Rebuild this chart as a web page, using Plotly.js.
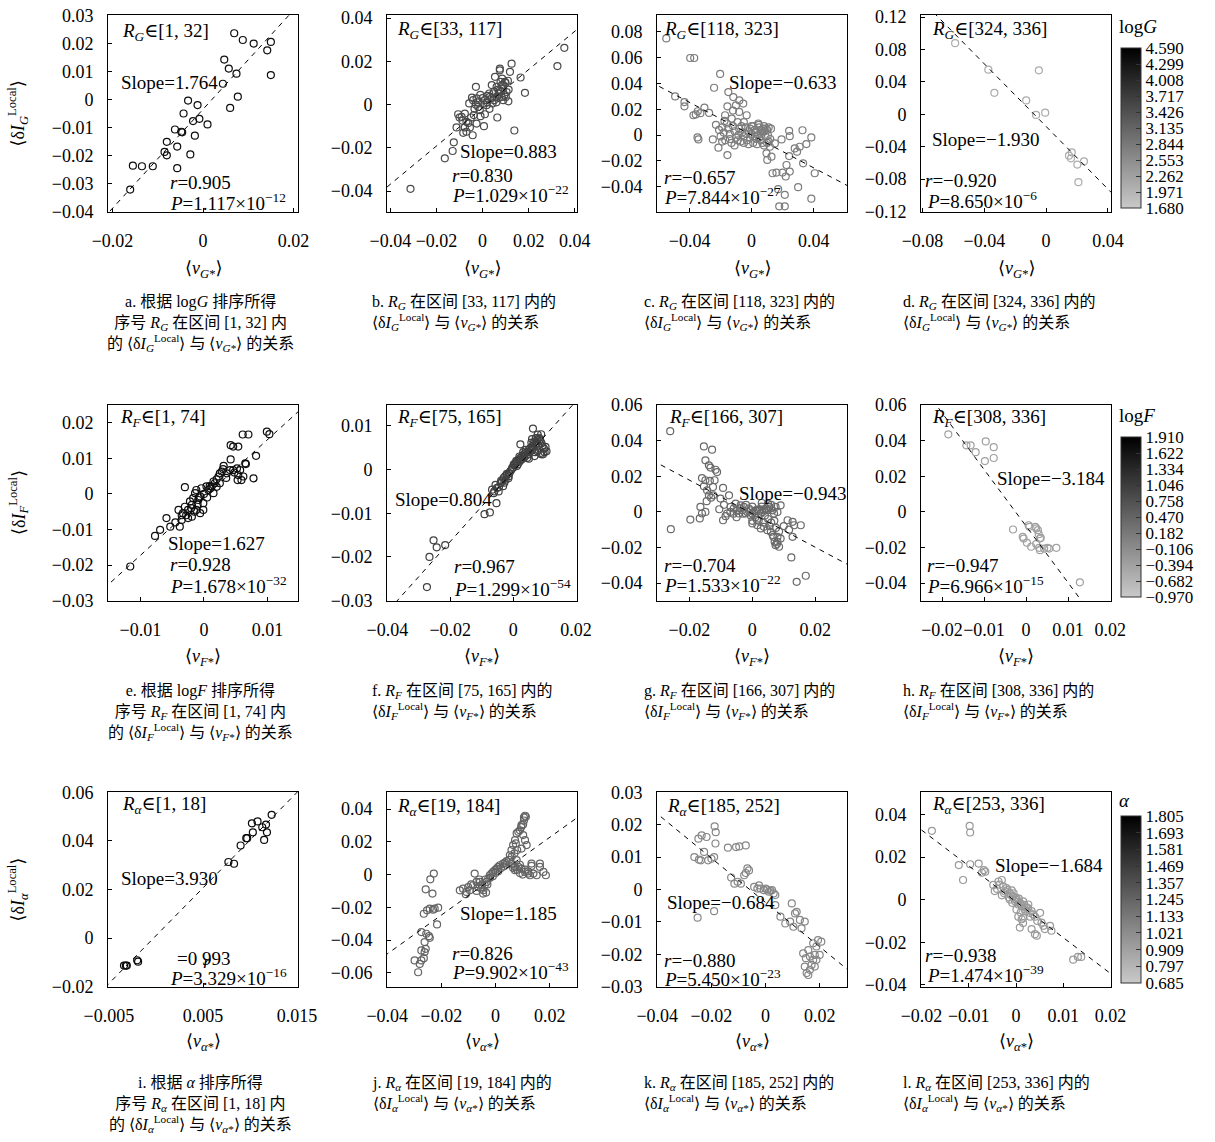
<!DOCTYPE html>
<html><head><meta charset="utf-8">
<script src="https://cdn.plot.ly/plotly-3.0.1.min.js"></script>
<style>body{margin:0;background:#fff}#chart{width:1215px;height:1142px}</style>
</head><body><div id="chart"></div>
<script>
// ---------------- DATA ----------------
const xA=[0.0069,0.0088,0.0112,0.0142,0.0150,0.0150,0.0047,0.0057,0.0074,0.0044,0.0077,0.0060,-0.0033,-0.0012,-0.0043,-0.0008,-0.0022,0.0010,-0.0062,-0.0046,-0.0018,-0.0080,-0.0057,-0.0085,-0.0080,-0.0028,-0.0155,-0.0135,-0.0111,-0.0057,-0.0161,-0.0048];
const yA=[0.0236,0.0212,0.0199,0.0175,0.0205,0.0087,0.0142,0.0110,0.0092,0.0056,0.0010,-0.0030,-0.0004,-0.0020,-0.0050,-0.0069,-0.0077,-0.0089,-0.0107,-0.0117,-0.0129,-0.0151,-0.0168,-0.0187,-0.0199,-0.0196,-0.0236,-0.0238,-0.0238,-0.0245,-0.0321,-0.0115];
const xB=[-0.0313,-0.0164,-0.0130,-0.0125,-0.0113,-0.0106,-0.0091,-0.0087,-0.0084,-0.0077,-0.0070,-0.0055,-0.0043,-0.0077,-0.0062,-0.0041,-0.0026,-0.0019,-0.0012,0.0003,0.0010,0.0017,0.0032,0.0046,0.0061,0.0068,0.0075,0.0083,0.0090,0.0078,0.0075,0.0075,0.0054,0.0097,0.0104,0.0119,0.0126,0.0090,0.0064,0.0112,-0.0029,0.0006,0.0029,-0.0046,-0.0058,-0.0038,-0.0026,-0.0009,0.0043,0.0061,0.0083,0.0101,0.0113,0.0325,0.0355,0.0138,0.0184,0.0165,-0.0030,-0.0020,0.0000,0.0020,0.0040,0.0050,0.0070,0.0080,0.0090,0.0100,0.0060,0.0040,0.0020,-0.0010,-0.0050,-0.0070,-0.0100,0.0085,0.0030,0.0110,0.0010,-0.0035,0.0070,0.0095,0.0050];
const yB=[-0.0390,-0.0249,-0.0215,-0.0175,-0.0106,-0.0045,-0.0057,-0.0075,-0.0131,-0.0106,-0.0126,-0.0106,-0.0142,-0.0042,-0.0085,0.0020,0.0028,-0.0011,-0.0026,0.0005,0.0020,-0.0003,0.0035,0.0051,0.0082,0.0069,0.0066,0.0089,0.0074,0.0105,0.0158,0.0166,0.0128,0.0105,0.0058,0.0151,0.0189,0.0020,-0.0060,0.0015,0.0082,-0.0100,0.0051,0.0032,0.0005,-0.0049,-0.0088,-0.0054,0.0005,0.0035,0.0035,0.0035,0.0069,0.0178,0.0262,-0.0120,0.0054,0.0125,0.0000,0.0010,0.0030,0.0040,0.0030,0.0060,0.0050,0.0060,0.0090,0.0100,0.0010,0.0090,0.0010,0.0045,-0.0060,-0.0080,-0.0060,0.0120,-0.0020,0.0110,-0.0045,-0.0020,0.0030,0.0045,0.0020];
const xC=[-0.0550,-0.0396,-0.0370,-0.0203,-0.0242,-0.0493,-0.0433,-0.0433,-0.0375,-0.0347,-0.0304,-0.0274,-0.0360,-0.0330,-0.0349,-0.0343,-0.0250,-0.0214,-0.0156,-0.0150,-0.0118,-0.0079,-0.0054,-0.0156,-0.0101,-0.0171,-0.0128,-0.0032,0.0043,0.0075,0.0193,0.0242,0.0246,0.0328,0.0353,0.0385,0.0310,0.0293,0.0278,0.0242,0.0332,0.0225,0.0246,0.0199,0.0160,0.0135,0.0220,0.0300,0.0385,0.0178,0.0214,0.0171,0.0214,0.0407,0.0128,0.0101,0.0096,0.0118,0.0150,-0.0230,-0.0210,-0.0200,-0.0190,-0.0180,-0.0170,-0.0160,-0.0150,-0.0140,-0.0130,-0.0120,-0.0110,-0.0100,-0.0090,-0.0080,-0.0070,-0.0060,-0.0050,-0.0040,-0.0030,-0.0020,-0.0010,0.0000,0.0010,0.0020,0.0030,0.0040,0.0050,0.0060,0.0070,0.0080,0.0090,0.0100,0.0110,0.0120,0.0100,0.0080,0.0060,-0.0020,-0.0050,-0.0090,-0.0110,-0.0140,-0.0190,0.0020,0.0030,0.0050,0.0070,0.0090,0.0110,-0.0010,0.0010,-0.0035,-0.0065,-0.0085,0.0045,0.0085,0.0105,0.0125,0.0035,-0.0120,-0.0080,-0.0050,-0.0175,0.0000];
const yC=[0.0749,0.0597,0.0597,0.0474,0.0367,0.0300,0.0256,0.0223,0.0154,0.0185,0.0213,0.0172,0.0160,0.0170,-0.0018,-0.0033,-0.0033,-0.0097,-0.0154,0.0333,0.0295,0.0269,0.0244,0.0223,0.0231,0.0154,0.0128,0.0154,0.0090,0.0051,-0.0033,0.0033,-0.0008,0.0038,-0.0069,-0.0018,-0.0090,-0.0128,-0.0103,-0.0162,-0.0218,-0.0231,-0.0282,-0.0290,-0.0290,-0.0295,-0.0320,-0.0403,-0.0492,-0.0551,-0.0551,-0.0418,-0.0462,-0.0295,-0.0167,-0.0192,-0.0141,-0.0090,-0.0064,0.0080,0.0040,-0.0010,0.0060,0.0020,-0.0040,0.0090,0.0050,0.0010,-0.0060,0.0070,0.0030,-0.0020,0.0100,0.0050,-0.0050,0.0020,-0.0010,0.0060,-0.0040,0.0030,-0.0020,0.0010,-0.0060,0.0040,-0.0030,0.0000,0.0060,-0.0040,0.0020,0.0070,-0.0010,0.0040,0.0060,-0.0030,-0.0060,-0.0080,0.0040,-0.0070,-0.0060,-0.0040,-0.0080,-0.0030,-0.0050,-0.0010,0.0020,-0.0020,-0.0060,0.0050,-0.0050,0.0050,0.0070,0.0010,0.0070,0.0000,0.0080,0.0030,0.0000,0.0050,-0.0070,0.0190,0.0180,0.0100,0.0110,0.0070];
const xD=[-0.0589,-0.0374,-0.0335,-0.0047,-0.0129,-0.0065,-0.0006,0.0148,0.0166,0.0161,0.0202,0.0245,0.0209];
const yD=[0.0878,0.0551,0.0265,0.0543,0.0171,-0.0008,0.0020,-0.0510,-0.0469,-0.0543,-0.0620,-0.0580,-0.0837];
const xE=[-0.0116,-0.0077,-0.0069,-0.0059,-0.0053,-0.0038,-0.0035,-0.0033,-0.0030,-0.0030,-0.0025,-0.0022,-0.0019,-0.0017,-0.0014,-0.0012,-0.0009,-0.0006,-0.0004,-0.0001,-0.0001,0.0004,-0.0006,-0.0012,-0.0019,-0.0025,0.0007,0.0009,0.0015,0.0017,0.0020,0.0023,0.0025,0.0028,0.0031,0.0015,0.0012,0.0042,0.0046,0.0054,0.0042,0.0041,0.0052,0.0054,0.0057,0.0059,0.0062,0.0065,0.0066,0.0061,0.0070,0.0082,0.0078,0.0099,0.0103,0.0053,0.0046,0.0036,-0.0040,-0.0045,-0.0028,-0.0010,0.0000,0.0005,0.0020,0.0025,-0.0015,0.0035,0.0010,-0.0020,-0.0035,0.0030,0.0048,-0.0008];
const yE=[-0.0204,-0.0118,-0.0101,-0.0068,-0.0092,-0.0092,-0.0073,-0.0054,-0.0036,0.0019,-0.0045,-0.0021,-0.0031,-0.0012,0.0002,0.0011,-0.0017,-0.0007,0.0016,-0.0026,-0.0045,0.0021,-0.0054,-0.0045,-0.0064,-0.0068,0.0011,0.0022,0.0035,0.0030,0.0041,0.0049,0.0058,0.0063,0.0079,0.0002,0.0021,0.0137,0.0133,0.0133,0.0097,0.0067,0.0072,0.0053,0.0067,0.0039,0.0049,0.0086,0.0084,0.0167,0.0167,0.0107,0.0044,0.0175,0.0168,0.0039,0.0067,0.0058,-0.0045,-0.0080,-0.0060,-0.0030,0.0000,-0.0010,0.0020,0.0030,-0.0050,0.0045,0.0015,-0.0040,-0.0060,0.0070,0.0060,-0.0010];
const xF=[-0.0274,-0.0266,-0.0253,-0.0243,-0.0216,-0.0091,-0.0074,-0.0053,-0.0067,-0.0062,-0.0056,-0.0051,-0.0046,-0.0040,-0.0035,-0.0030,-0.0024,-0.0019,-0.0014,-0.0009,-0.0003,0.0002,0.0007,0.0013,0.0018,0.0023,0.0029,0.0034,0.0039,0.0045,0.0050,0.0055,0.0061,0.0066,0.0071,0.0077,0.0082,0.0087,0.0093,0.0098,0.0103,0.0087,0.0077,0.0068,0.0063,0.0089,0.0106,0.0089,0.0023,-0.0045,-0.0038,-0.0028,-0.0020,-0.0012,-0.0005,0.0000,0.0005,0.0010,0.0015,0.0020,0.0025,0.0030,0.0035,0.0040,0.0045,0.0050,0.0055,0.0060,0.0065,0.0070,0.0075,0.0080,0.0085,0.0060,0.0040,0.0020,-0.0015,-0.0032,-0.0060,0.0070,0.0090,0.0078,0.0050,0.0012,-0.0025,0.0032,0.0058,0.0072,0.0095,0.0100];
const yF=[-0.0269,-0.0200,-0.0162,-0.0178,-0.0173,-0.0102,-0.0098,-0.0077,-0.0046,-0.0054,-0.0035,-0.0042,-0.0050,-0.0031,-0.0027,-0.0019,-0.0023,-0.0012,-0.0015,-0.0004,0.0004,0.0012,0.0015,0.0019,0.0023,0.0027,0.0031,0.0035,0.0038,0.0027,0.0046,0.0050,0.0054,0.0062,0.0065,0.0069,0.0073,0.0065,0.0054,0.0048,0.0052,0.0038,0.0042,0.0031,0.0094,0.0081,0.0042,0.0035,0.0058,-0.0040,-0.0025,-0.0030,-0.0010,-0.0008,0.0000,0.0005,0.0010,0.0020,0.0012,0.0018,0.0022,0.0025,0.0028,0.0032,0.0040,0.0035,0.0042,0.0045,0.0050,0.0058,0.0060,0.0055,0.0070,0.0070,0.0045,0.0030,-0.0020,-0.0038,-0.0050,0.0040,0.0060,0.0080,0.0025,0.0008,-0.0015,0.0040,0.0062,0.0072,0.0035,0.0040];
const xG=[-0.0261,-0.0259,-0.0197,-0.0165,-0.0160,-0.0167,-0.0149,-0.0154,-0.0128,-0.0149,-0.0138,-0.0133,-0.0117,-0.0112,-0.0149,-0.0135,-0.0120,-0.0154,-0.0144,-0.0138,-0.0131,-0.0124,-0.0093,-0.0101,-0.0074,-0.0093,-0.0085,-0.0080,-0.0069,-0.0059,-0.0053,-0.0048,-0.0043,-0.0037,-0.0032,-0.0027,-0.0021,-0.0016,-0.0011,-0.0005,0.0000,0.0005,0.0011,0.0016,0.0021,0.0027,0.0032,0.0037,0.0043,0.0048,0.0053,0.0059,0.0064,0.0069,0.0074,0.0000,0.0016,0.0027,0.0037,0.0048,0.0059,0.0067,0.0071,0.0074,0.0080,0.0085,0.0080,0.0090,0.0112,0.0128,0.0133,0.0154,0.0124,0.0141,0.0170,0.0128,0.0117,0.0100,-0.0060,-0.0050,-0.0040,-0.0020,0.0000,0.0010,0.0020,0.0030,0.0040,0.0050,0.0060,0.0070,0.0080,0.0060,0.0045,0.0025,-0.0005,-0.0030,0.0035,0.0055,0.0075,0.0085,0.0065,0.0090,0.0078,-0.0105,-0.0090,-0.0070,-0.0160,-0.0125,-0.0145,0.0030,0.0050,0.0015,0.0000];
const yG=[0.0454,-0.0097,-0.0043,0.0028,-0.0009,-0.0037,0.0000,0.0368,0.0350,0.0290,0.0262,0.0249,0.0237,0.0224,0.0178,0.0174,0.0178,0.0144,0.0121,0.0093,0.0080,0.0093,0.0135,0.0075,0.0093,-0.0047,-0.0024,-0.0009,0.0028,0.0019,0.0047,0.0009,-0.0009,0.0037,0.0009,0.0028,-0.0009,0.0000,0.0019,0.0009,-0.0009,0.0000,0.0009,0.0013,0.0006,-0.0009,0.0000,0.0009,0.0019,0.0009,0.0028,0.0019,0.0009,-0.0009,0.0028,-0.0065,-0.0075,-0.0093,-0.0084,-0.0103,-0.0112,-0.0140,-0.0168,-0.0187,-0.0168,-0.0196,-0.0140,0.0037,-0.0047,-0.0056,-0.0075,-0.0075,-0.0256,-0.0393,-0.0359,-0.0140,-0.0100,-0.0080,-0.0010,-0.0030,0.0020,0.0040,0.0030,-0.0030,-0.0050,0.0030,-0.0020,-0.0040,-0.0060,-0.0050,0.0000,0.0040,0.0010,0.0015,-0.0020,-0.0010,-0.0060,-0.0080,-0.0090,-0.0110,-0.0130,-0.0150,-0.0180,0.0015,0.0040,0.0000,0.0190,0.0140,0.0060,0.0050,0.0045,-0.0045,-0.0050];
const xH=[-0.0185,-0.0142,-0.0132,-0.0120,-0.0098,-0.0096,-0.0077,-0.0077,-0.0031,-0.0008,-0.0006,0.0002,0.0006,0.0008,0.0012,0.0022,0.0024,0.0028,0.0030,0.0033,0.0035,0.0024,0.0031,0.0033,0.0043,0.0051,0.0055,0.0072,0.0128];
const yH=[0.0436,0.0374,0.0374,0.0336,0.0286,0.0396,0.0364,0.0303,-0.0099,-0.0140,-0.0150,-0.0174,-0.0075,-0.0084,-0.0196,-0.0084,-0.0093,-0.0103,-0.0125,-0.0150,-0.0146,-0.0181,-0.0202,-0.0215,-0.0206,-0.0202,-0.0206,-0.0202,-0.0396];
const xI=[-0.0034,-0.0032,-0.0031,-0.0020,-0.0019,0.0077,0.0083,0.0090,0.0096,0.0097,0.0103,0.0102,0.0108,0.0113,0.0117,0.0115,0.0118,0.0123];
const yI=[-0.0113,-0.0113,-0.0113,-0.0091,-0.0097,0.0313,0.0306,0.0381,0.0411,0.0411,0.0435,0.0472,0.0480,0.0456,0.0467,0.0404,0.0435,0.0507];
const xJ=[-0.0286,-0.0299,-0.0280,-0.0274,-0.0262,-0.0274,-0.0258,-0.0265,-0.0274,-0.0256,-0.0246,-0.0262,-0.0265,-0.0253,-0.0243,-0.0225,-0.0212,-0.0231,-0.0258,-0.0233,-0.0241,-0.0228,-0.0216,-0.0243,-0.0132,-0.0120,-0.0107,-0.0101,-0.0095,-0.0083,-0.0077,-0.0070,-0.0064,-0.0058,-0.0052,-0.0046,-0.0040,-0.0033,-0.0027,-0.0021,-0.0015,-0.0009,-0.0002,0.0004,0.0010,0.0016,0.0028,0.0035,0.0041,0.0053,0.0059,0.0065,0.0072,0.0078,0.0096,0.0102,0.0109,0.0115,0.0084,0.0096,0.0102,0.0105,0.0109,0.0112,0.0059,0.0072,0.0084,0.0096,0.0109,0.0121,0.0127,0.0140,0.0152,0.0133,0.0133,0.0164,0.0177,0.0186,0.0164,0.0078,0.0072,-0.0060,-0.0050,-0.0045,-0.0038,-0.0030,-0.0020,-0.0010,0.0000,0.0010,0.0020,0.0030,0.0040,0.0050,0.0060,0.0070,0.0080,0.0070,0.0080,0.0090,0.0100,0.0110,0.0120,0.0090,0.0065,-0.0110,-0.0090,0.0090,0.0095,0.0105,0.0075,-0.0035,-0.0070];
const yJ=[-0.0596,-0.0524,-0.0545,-0.0524,-0.0473,-0.0463,-0.0453,-0.0510,-0.0351,-0.0361,-0.0376,-0.0412,-0.0239,-0.0218,-0.0208,-0.0208,-0.0202,-0.0214,-0.0090,-0.0116,-0.0029,0.0006,-0.0304,-0.0386,-0.0096,-0.0086,-0.0106,-0.0076,-0.0096,-0.0065,0.0006,-0.0045,-0.0076,-0.0045,-0.0086,-0.0116,-0.0065,-0.0045,-0.0024,-0.0004,0.0006,0.0016,0.0027,0.0037,0.0047,0.0057,0.0067,0.0073,0.0082,0.0118,0.0149,0.0180,0.0210,0.0251,0.0159,0.0241,0.0210,0.0180,0.0261,0.0302,0.0306,0.0349,0.0359,0.0353,0.0067,0.0027,0.0047,0.0037,0.0016,0.0006,-0.0004,0.0006,-0.0004,0.0053,0.0067,0.0067,0.0016,-0.0004,0.0047,0.0088,0.0047,-0.0030,-0.0060,-0.0095,-0.0030,-0.0060,-0.0020,-0.0010,0.0010,0.0020,0.0040,0.0050,0.0060,0.0090,0.0110,0.0130,0.0150,0.0050,0.0030,0.0010,0.0000,0.0030,0.0020,0.0060,0.0040,-0.0120,-0.0060,0.0270,0.0290,0.0330,0.0190,-0.0110,-0.0100];
const xK=[-0.0263,-0.0246,-0.0239,-0.0248,-0.0236,-0.0218,-0.0227,-0.0212,-0.0200,-0.0190,-0.0188,-0.0184,-0.0185,-0.0251,-0.0190,-0.0139,-0.0109,-0.0097,-0.0073,-0.0127,-0.0115,-0.0103,-0.0091,-0.0079,-0.0073,-0.0067,-0.0061,-0.0042,-0.0030,-0.0024,-0.0018,-0.0006,0.0000,0.0006,0.0012,0.0018,0.0024,0.0030,0.0036,0.0036,0.0055,0.0073,0.0091,0.0103,0.0097,0.0109,0.0115,0.0127,0.0133,0.0145,0.0139,0.0145,0.0152,0.0158,0.0164,0.0170,0.0176,0.0182,0.0188,0.0194,0.0176,0.0158,0.0149,0.0164,0.0182,0.0188,0.0200,0.0206];
const yK=[0.0100,0.0092,0.0090,0.0157,0.0167,0.0162,0.0116,0.0090,0.0095,0.0100,0.0195,0.0177,0.0142,-0.0087,-0.0067,0.0129,0.0131,0.0133,0.0136,0.0037,0.0018,0.0024,0.0018,0.0044,0.0051,0.0065,0.0059,0.0008,0.0003,0.0013,0.0003,-0.0002,0.0003,0.0000,-0.0007,-0.0004,-0.0002,-0.0012,-0.0017,-0.0048,-0.0084,-0.0105,-0.0099,-0.0115,-0.0043,-0.0074,-0.0069,-0.0094,-0.0120,-0.0099,-0.0197,-0.0238,-0.0258,-0.0264,-0.0248,-0.0233,-0.0217,-0.0202,-0.0176,-0.0156,-0.0166,-0.0187,-0.0212,-0.0207,-0.0238,-0.0217,-0.0202,-0.0161];
const xL=[-0.0178,-0.0098,-0.0097,-0.0121,-0.0112,-0.0097,-0.0079,-0.0072,-0.0065,-0.0068,-0.0048,-0.0037,-0.0030,-0.0027,-0.0020,-0.0023,-0.0013,-0.0009,-0.0006,-0.0002,0.0001,0.0005,0.0008,0.0012,0.0015,0.0019,0.0022,0.0026,0.0029,0.0033,0.0036,-0.0013,0.0001,0.0012,0.0015,0.0008,0.0033,0.0040,0.0044,0.0051,0.0054,0.0058,0.0061,0.0072,0.0075,0.0121,0.0131,0.0138,-0.0040,-0.0035,-0.0025,-0.0018,-0.0010,-0.0005,0.0000,0.0003,0.0006,0.0010,0.0018,0.0020,0.0025,0.0030,0.0010,-0.0015,-0.0008,0.0005,-0.0045,-0.0030,0.0040,0.0045,0.0015];
const yL=[0.0323,0.0346,0.0315,0.0162,0.0092,0.0166,0.0169,0.0126,0.0131,0.0138,0.0069,0.0085,0.0092,0.0062,0.0054,0.0038,0.0031,0.0043,0.0015,-0.0008,0.0008,-0.0023,-0.0015,-0.0031,-0.0008,-0.0046,-0.0038,-0.0023,-0.0062,-0.0054,-0.0069,0.0000,-0.0046,-0.0092,-0.0085,-0.0131,-0.0138,-0.0162,-0.0169,-0.0062,-0.0108,-0.0123,-0.0138,-0.0123,-0.0146,-0.0282,-0.0269,-0.0269,0.0050,0.0070,0.0030,0.0045,0.0020,0.0030,0.0000,-0.0010,0.0005,-0.0020,-0.0025,-0.0055,-0.0040,-0.0080,-0.0060,0.0010,-0.0015,-0.0080,0.0040,0.0020,-0.0080,-0.0100,-0.0110];

// colour value of each panel's points (logG / logF / alpha)
const colourVals=[4.40,3.50,2.80,2.10, 1.70,1.00,0.40,-0.40, 1.75,1.25,1.05,0.95];
// fit statistics
const slopes=[1.764,0.883,-0.633,-1.930, 1.627,0.804,-0.943,-3.184, 3.930,1.185,-0.684,-1.684];
const intercepts=[-0.0035,-0.0015,0.0000,-0.0150, -0.0010,-0.0004,-0.0010,-0.0080, 0.0010,-0.0010,-0.0040,-0.0010];
const rVals=[0.905,0.830,-0.657,-0.920, 0.928,0.967,-0.704,-0.947, 0.993,0.826,-0.880,-0.938];
const pMant=[1.117,1.029,7.844,8.650, 1.678,1.299,1.533,6.966, 3.329,9.902,5.450,1.474];
const pExp=[-12,-22,-27,-6, -32,-54,-22,-15, -16,-43,-23,-39];
const rankRanges=[[1,32],[33,117],[118,323],[324,336],[1,74],[75,165],[166,307],[308,336],[1,18],[19,184],[185,252],[253,336]];
const panelLetters=['a','b','c','d','e','f','g','h','i','j','k','l'];
const rowVars=['G','F','α'];
const rowScaleNames=['log<i>G</i>','log<i>F</i>','<i>α</i>'];
// colourbar ticks
const cbTicks=[
 ['4.590','4.299','4.008','3.717','3.426','3.135','2.844','2.553','2.262','1.971','1.680'],
 ['1.910','1.622','1.334','1.046','0.758','0.470','0.182','−0.106','−0.394','−0.682','−0.970'],
 ['1.805','1.693','1.581','1.469','1.357','1.245','1.133','1.021','0.909','0.797','0.685']];
const cbVals=[
 [4.590,4.299,4.008,3.717,3.426,3.135,2.844,2.553,2.262,1.971,1.680],
 [1.910,1.622,1.334,1.046,0.758,0.470,0.182,-0.106,-0.394,-0.682,-0.970],
 [1.805,1.693,1.581,1.469,1.357,1.245,1.133,1.021,0.909,0.797,0.685]];
// axis tick values
const xTicks=[[-0.02,0,0.02],[-0.04,-0.02,0,0.02,0.04],[-0.04,0,0.04],[-0.08,-0.04,0,0.04],
 [-0.01,0,0.01],[-0.04,-0.02,0,0.02],[-0.02,0,0.02],[-0.02,-0.01,0,0.01,0.02],
 [-0.005,0.005,0.015],[-0.04,-0.02,0,0.02],[-0.04,-0.02,0,0.02],[-0.02,-0.01,0,0.01,0.02]];
const yTicks=[[-0.04,-0.03,-0.02,-0.01,0,0.01,0.02,0.03],[-0.04,-0.02,0,0.02,0.04],[-0.06,-0.04,-0.02,0,0.02,0.04,0.06,0.08],[-0.12,-0.08,-0.04,0,0.04,0.08,0.12],
 [-0.03,-0.02,-0.01,0,0.01,0.02],[-0.03,-0.02,-0.01,0,0.01],[-0.04,-0.02,0,0.02,0.04,0.06],[-0.04,-0.02,0,0.02,0.04,0.06],
 [-0.02,0,0.02,0.04,0.06],[-0.06,-0.04,-0.02,0,0.02,0.04],[-0.03,-0.02,-0.01,0,0.01,0.02,0.03],[-0.04,-0.02,0,0.02,0.04]];

// ---------------- LAYOUT HELPERS ----------------
const W=1215,H=1142;
const FX=p=>p/W, FY=p=>1-p/H;
const FONT='"Liberation Serif","DejaVu Serif","Noto Sans CJK SC",serif';
const colBox=[[108,298],[387,577],[657,847],[921,1111]];
const rowBox=[[15,212],[405,601],[792,987]];
const xRanges=[[-0.021,0.021],[-0.0415,0.041],[-0.061,0.0615],[-0.081,0.042],
 [-0.0151,0.0148],[-0.0401,0.0203],[-0.0303,0.0301],[-0.025,0.0202],
 [-0.0051,0.0151],[-0.0401,0.0301],[-0.0401,0.0301],[-0.0201,0.0201]];
const yRanges=[[-0.0401,0.0301],[-0.0497,0.0414],[-0.0595,0.093],[-0.1205,0.1225],
 [-0.0301,0.025],[-0.0301,0.0148],[-0.0501,0.0601],[-0.0501,0.0601],
 [-0.0201,0.0601],[-0.0686,0.0504],[-0.0301,0.0301],[-0.041,0.0505]];
// text positions (px): label, slope, r, P
const txtPos=[
 [[120,32],[119,82],[168,182],[168,202]],
 [[395,30],[458,152],[450,175],[450,194]],
 [[662,30],[727,82],[662,177],[662,196]],
 [[930,30],[930,139],[923,180],[925,200]],
 [[118,418],[166,543],[168,564],[168,585]],
 [[395,418],[393,499],[452,566],[452,588]],
 [[667,418],[737,493],[662,565],[662,584]],
 [[930,418],[995,478],[925,565],[925,585]],
 [[120,805],[119,878],[175,958],[168,977]],
 [[395,807],[458,913],[450,953],[450,971]],
 [[665,807],[665,902],[662,960],[662,978]],
 [[930,805],[993,865],[923,955],[925,974]]];

const series=[[xA,yA],[xB,yB],[xC,yC],[xD,yD],[xE,yE],[xF,yF],[xG,yG],[xH,yH],[xI,yI],[xJ,yJ],[xK,yK],[xL,yL]];
const fmtTick=v=>v===0?'0':(v<0?'−':'')+String(Math.abs(v));
const fmtNum=v=>(v<0?'−':'')+Math.abs(v).toFixed(3);
const cmins=[1.680,-0.970,0.685], cmaxs=[4.590,1.910,1.805];
const cbTop=[48,437,816], cbBot=[208,597,983], cbTitleY=[27,415,800];
const gscale=[[0,'#c9c9c9'],[1,'#000000']];

const traces=[], annotations=[];
const layout={width:W,height:H,margin:{l:0,r:0,t:0,b:0},paper_bgcolor:'#fff',plot_bgcolor:'#fff',showlegend:false,font:{family:FONT,color:'#000'}};

function ann(text,x,y,o){annotations.push(Object.assign({text,x:FX(x),y:FY(y),xref:'paper',yref:'paper',showarrow:false,xanchor:'left',yanchor:'middle',font:{family:FONT,size:19,color:'#000'}},o||{}));}

for(let i=0;i<12;i++){
  const row=Math.floor(i/4), col=i%4, n=i+1;
  const xa='xaxis'+(n===1?'':n), ya='yaxis'+(n===1?'':n);
  const xr='x'+(n===1?'':n), yr='y'+(n===1?'':n);
  const common={ticks:'inside',ticklen:4,tickwidth:1,tickcolor:'#000',showline:true,linecolor:'#000',linewidth:1,mirror:true,showgrid:false,zeroline:false,fixedrange:true,tickmode:'array',tickangle:0,tickfont:{family:FONT,size:18,color:'#000'}};
  layout[xa]=Object.assign({},common,{domain:[FX(colBox[col][0]),FX(colBox[col][1])],range:xRanges[i],anchor:yr,tickvals:xTicks[i],ticktext:xTicks[i].map(fmtTick),ticklabelstandoff:12});
  layout[ya]=Object.assign({},common,{domain:[FY(rowBox[row][1]),FY(rowBox[row][0])],range:yRanges[i],anchor:xr,tickvals:yTicks[i],ticktext:yTicks[i].map(fmtTick),ticklabelstandoff:10});
  const ca='coloraxis'+(row===0?'':row+1);
  const [xs,ys]=series[i];
  traces.push({type:'scatter',mode:'markers',x:xs,y:ys,xaxis:xr,yaxis:yr,hoverinfo:'skip',
    marker:{symbol:'circle-open',size:7,color:xs.map(()=>colourVals[i]),coloraxis:ca,line:{width:1.2}}});
  const lx=[xRanges[i][0]-0.01,xRanges[i][1]+0.01];
  traces.push({type:'scatter',mode:'lines',x:lx,y:lx.map(v=>slopes[i]*v+intercepts[i]),xaxis:xr,yaxis:yr,hoverinfo:'skip',
    line:{color:'#000',width:1,dash:'5px,5px'}});
  const v=rowVars[row], rr=rankRanges[i], p=txtPos[i];
  ann(`<i>R</i><sub><i>${v}</i></sub>∈[${rr[0]}, ${rr[1]}]`,p[0][0],p[0][1]);
  ann(`Slope=${fmtNum(slopes[i])}`,p[1][0],p[1][1]);
  if(i===8){ ann(`=0 993`,p[2][0],p[2][1]); ann('<i>r</i>',p[2][0]+26,p[2][1]+3); }
  else ann(`<i>r</i>=${fmtNum(rVals[i])}`,p[2][0],p[2][1]);
  ann(`<i>P</i>=${pMant[i].toFixed(3)}×10<sup>${pExp[i]<0?'−':''}${Math.abs(pExp[i])}</sup>`,p[3][0],p[3][1]);
  // x axis title
  const xTitleY=[270,657,1042][row];
  ann(`⟨<i>v</i><sub><i>${v}</i>*</sub>⟩`,(colBox[col][0]+colBox[col][1])/2,xTitleY,{xanchor:'center',font:{family:FONT,size:18,color:'#000'}});
}
// y axis titles
for(let r=0;r<3;r++){
  const v=rowVars[r];
  ann(`⟨δ<i>I</i><sub><i>${v}</i></sub><sup>Local</sup>⟩`,18,(rowBox[r][0]+rowBox[r][1])/2,{xanchor:'center',textangle:-90,font:{family:FONT,size:18,color:'#000'}});
}
// colour axes
for(let r=0;r<3;r++){
  const name='coloraxis'+(r===0?'':r+1);
  layout[name]={cmin:cmins[r],cmax:cmaxs[r],colorscale:gscale,showscale:true,
    colorbar:{x:FX(1121),xanchor:'left',y:FY(cbTop[r]),yanchor:'top',len:cbBot[r]-cbTop[r],lenmode:'pixels',thickness:20,thicknessmode:'pixels',xpad:0,ypad:0,
      outlinewidth:1,outlinecolor:'#333',ticks:'inside',ticklen:5,tickcolor:'#333',tickmode:'array',tickvals:cbVals[r],ticktext:cbTicks[r],
      tickfont:{family:FONT,size:17,color:'#000'},ticklabelpad:2}};
  ann(rowScaleNames[r],1117,cbTitleY[r],{font:{family:FONT,size:19,color:'#000'}});
}
// captions
const capFont={family:'"Liberation Serif","Noto Sans CJK SC",serif',size:16,color:'#000'};
const capTop=[291,680,1072];
const capX=[[200,'center'],[370,'left'],[642,'left'],[901,'left']];
for(let i=0;i<12;i++){
  const row=Math.floor(i/4), col=i%4, v=rowVars[row], rr=rankRanges[i], L=panelLetters[i];
  const rel=`⟨δ<i>I</i><sub><i>${v}</i></sub><sup>Local</sup>⟩ 与 ⟨<i>v</i><sub><i>${v}</i>*</sub>⟩ 的关系`;
  let text;
  if(col===0){
    const nm=row===2?'<i>α</i>':`log<i>${v}</i>`;
    text=`${L}. 根据 ${nm} 排序所得<br>序号 <i>R</i><sub><i>${v}</i></sub> 在区间 [${rr[0]}, ${rr[1]}] 内<br>的 ${rel}`;
  } else {
    text=`${L}. <i>R</i><sub><i>${v}</i></sub> 在区间 [${rr[0]}, ${rr[1]}] 内的<br>${rel}`;
  }
  annotations.push({text,x:FX(capX[col][0]),y:FY(capTop[row]),xref:'paper',yref:'paper',showarrow:false,
    xanchor:capX[col][1],yanchor:'top',align:capX[col][1],font:capFont});
}
layout.annotations=annotations;
Plotly.newPlot('chart',traces,layout,{staticPlot:true,displayModeBar:false});
</script></body></html>
